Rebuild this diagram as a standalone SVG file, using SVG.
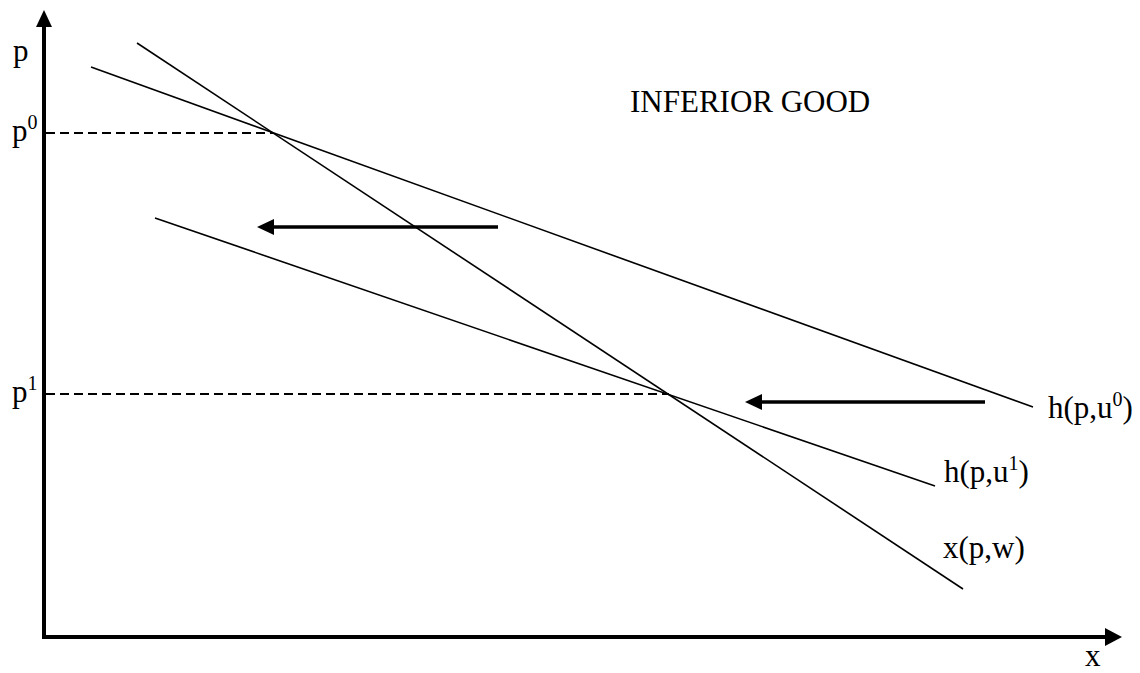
<svg xmlns="http://www.w3.org/2000/svg" width="1140" height="673" viewBox="0 0 1140 673">
<style>
text{font-family:"Liberation Serif","Times New Roman",serif;font-size:31px;fill:#000}
.sup{font-size:20px}
.curve{stroke:#000;stroke-width:1.6;fill:none}
.dash{stroke:#000;stroke-width:2.2;stroke-dasharray:9,5;fill:none}
.axis{stroke:#000;stroke-width:4;fill:none}
.shift{stroke:#000;stroke-width:3.6;fill:none}
</style>
<rect width="1140" height="673" fill="#fff"/>
<g id="axes">
<line class="axis" x1="44" y1="24" x2="44" y2="639"/>
<polygon points="44,10 36,27 52,27" fill="#000"/>
<line class="axis" x1="42" y1="637" x2="1108" y2="637"/>
<polygon points="1122,637 1105,628 1105,646" fill="#000"/>
</g>
<g id="connectors">
<line class="dash" x1="46" y1="133" x2="273" y2="133"/>
<line class="dash" x1="46" y1="394" x2="669" y2="394"/>
<g id="shift1">
<line class="shift" x1="498" y1="227" x2="270" y2="227"/>
<polygon points="257,227 274,219 274,235" fill="#000"/>
</g>
<g id="shift2">
<line class="shift" x1="985" y1="402" x2="758" y2="402"/>
<polygon points="745,402 762,394 762,410" fill="#000"/>
</g>
</g>
<g id="h-u0"><line class="curve" x1="91" y1="67" x2="1033" y2="407"/></g>
<g id="h-u1"><line class="curve" x1="155" y1="218" x2="935" y2="486"/></g>
<g id="x-pw"><line class="curve" x1="137" y1="43" x2="963" y2="589"/></g>
<g id="labels">
<text x="13" y="61">p</text>
<text x="12" y="141">p<tspan class="sup" dy="-12">0</tspan></text>
<text x="12" y="402">p<tspan class="sup" dy="-12">1</tspan></text>
<text x="630" y="112">INFERIOR GOOD</text>
<text x="1048" y="418">h(p,u<tspan class="sup" dy="-12">0</tspan><tspan dy="12">)</tspan></text>
<text x="944" y="482">h(p,u<tspan class="sup" dy="-12">1</tspan><tspan dy="12">)</tspan></text>
<text x="943" y="558">x(p,w)</text>
<text x="1085" y="666">x</text>
</g>
</svg>
